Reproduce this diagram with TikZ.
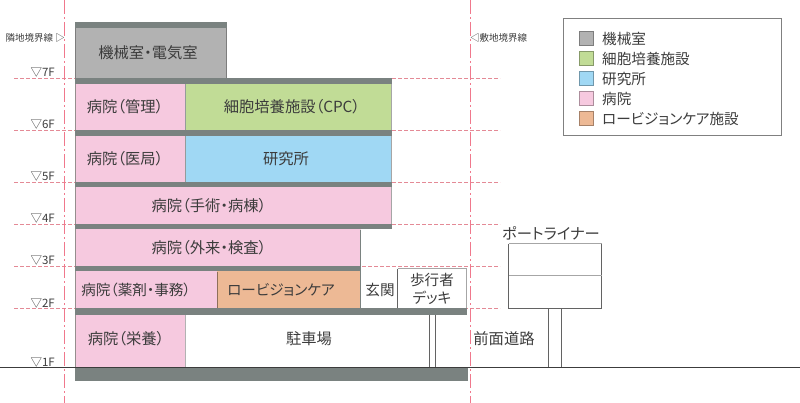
\documentclass[tikz,border=0pt]{standalone}
\usepackage{fontspec}
\setmainfont[RawFeature={+palt}]{Noto Sans CJK JP}
\definecolor{slab}{HTML}{7A8280}
\definecolor{mech}{HTML}{B2B2B2}
\definecolor{cpc}{HTML}{C1DC96}
\definecolor{lab}{HTML}{A0D8F4}
\definecolor{hosp}{HTML}{F6C9DF}
\definecolor{lowv}{HTML}{EDB995}
\definecolor{redline}{HTML}{F0788C}
\definecolor{dashred}{HTML}{E48A96}
\definecolor{ink}{HTML}{3C3C3C}
\tikzset{
  x=1pt,y=-1pt,
  slabfill/.style={fill=slab,draw=none},
  txt/.style={inner sep=0pt,text=ink,font=\fontsize{15.3}{18}\selectfont,align=center},
  txtb/.style={inner sep=0pt,text=ink,font=\fontsize{14.6}{18}\selectfont,align=center},
  small/.style={inner sep=0pt,text=ink,font=\fontsize{9.5}{11}\selectfont},
  lev/.style={inner sep=0pt,text=ink,anchor=base east,font=\fontsize{11.5}{13}\selectfont},
  boundary/.style={draw=redline,line width=.8pt,dash pattern=on 14pt off 3pt on 2pt off 3pt},
  levelline/.style={draw=dashred,line width=.6pt,dash pattern=on 4pt off 2pt},
  thin/.style={draw=ink!80,line width=.7pt},
  swatch/.style={draw=#1!70!black,line width=.8pt},
}
\begin{document}
\begin{tikzpicture}
\useasboundingbox (0,0) rectangle (800,403);
% level lines (behind the building)
\coordinate (L7a) at (14,78); \coordinate (L7b) at (500,78);
\coordinate (L6a) at (14,130); \coordinate (L6b) at (500,130);
\coordinate (L5a) at (14,182); \coordinate (L5b) at (500,182);
\coordinate (L4a) at (14,224); \coordinate (L4b) at (500,224);
\coordinate (L3a) at (14,266); \coordinate (L3b) at (500,266);
\coordinate (L2a) at (14,308); \coordinate (L2b) at (500,308);
\foreach \n in {7,6,5,4,3,2} \draw[levelline] (L\n a) -- (L\n b);
% rooms
\fill[mech] (75.5,28) rectangle (226,78);
\draw[draw=mech!70!black,line width=.6pt] (75.5,28) -- (75.5,78) (226,28) -- (226,78);
\fill[hosp] (75.5,84) rectangle (185,130.5);
\fill[cpc] (185,84) rectangle (391,130.5);
\fill[hosp] (75.5,136) rectangle (185,182);
\fill[lab] (185,136) rectangle (391,182);
\fill[hosp] (75.5,187) rectangle (391,224.5);
\fill[hosp] (75.5,229.5) rectangle (360.5,266.5);
\fill[hosp] (75.5,271.5) rectangle (217,308.5);
\fill[lowv] (217,271.5) rectangle (360.5,308.5);
\fill[hosp] (75.5,315) rectangle (185,367);
\draw[lowv!60!black,line width=.7pt] (217,272) -- (217,308);
\draw[slab!80!white,line width=.8pt] (185,84) -- (185,130) (185,136) -- (185,182);
\draw[gray!60,line width=1pt] (185,315) -- (185,367);
\draw[gray!70,line width=.9pt] (391,84) -- (391,224);
\draw[slab,line width=.8pt] (360.5,230) -- (360.5,308);
\draw[slab!80!pink,line width=.6pt] (75.5,84) -- (75.5,367);
% slabs
\fill[slabfill] (75,22) rectangle (226.5,28);
\fill[slabfill] (75,77.8) rectangle (391.5,84);
\fill[slabfill] (75,129.8) rectangle (391.5,136);
\fill[slabfill] (75,181.8) rectangle (391.5,187.5);
\fill[slabfill] (75,223.8) rectangle (391.5,229.5);
\fill[slabfill] (75,265.8) rectangle (361,271.5);
\fill[slabfill] (75,307.8) rectangle (467,315);
\fill[slabfill] (75,367) rectangle (468,380.5);
% ground
\coordinate (G0) at (0,367); \coordinate (G1) at (800,367);
\draw[ink,line width=.8pt] (G0) -- (G1);
% boundaries
\coordinate (BLt) at (64.5,0); \coordinate (BLb) at (64.5,403);
\coordinate (BRt) at (470.5,0); \coordinate (BRb) at (470.5,403);
\draw[boundary] (BLt) -- (BLb);
\draw[boundary] (BRt) -- (BRb);
% deck
\coordinate (D1) at (397.5,308); \coordinate (D2) at (397.5,269); \coordinate (D3) at (466,269); \coordinate (D4) at (466,308);
\draw[gray!70,line width=1pt] (D2) -- (D3) -- (D4);
\draw[thin] (D1) -- (D2);
\coordinate (Dc1t) at (429,315); \coordinate (Dc1b) at (429,367);
\coordinate (Dc2t) at (435.5,315); \coordinate (Dc2b) at (435.5,367);
\draw[thin] (Dc1t) -- (Dc1b);
\draw[thin] (Dc2t) -- (Dc2b);
% port liner
\coordinate (P1) at (508.5,244); \coordinate (P2) at (601.5,244); \coordinate (P3) at (601.5,308); \coordinate (P4) at (508.5,308);
\draw[gray!70,line width=1pt] (P1) -- (P2);
\draw[thin] (P2) -- (P3) -- (P4) -- (P1);
\coordinate (Pm1) at (508.5,276); \coordinate (Pm2) at (601.5,276);
\draw[gray!70,line width=1pt] (Pm1) -- (Pm2);
\coordinate (Pc1t) at (548.5,308); \coordinate (Pc1b) at (548.5,367);
\coordinate (Pc2t) at (561.5,308); \coordinate (Pc2b) at (561.5,367);
\draw[thin] (Pc1t) -- (Pc1b);
\draw[thin] (Pc2t) -- (Pc2b);
% room labels
\node[txt] (t1) at (148,53) {機械室・電気室};
\node[txt] (t2) at (125,107) {病院（管理）};
\node[txt] (t3) at (292,107) {細胞培養施設（CPC）};
\node[txt] (t4) at (125,159) {病院（医局）};
\node[txt] (t5) at (286,159) {研究所};
\node[txt] (t6) at (209,205.5) {病院（手術・病棟）};
\node[txt] (t7) at (209,248) {病院（外来・検査）};
\node[txtb] (t8) at (136,290) {病院（薬剤・事務）};
\node[txtb] (t9) at (281,290) {ロービジョンケア};
\node[txtb] (t10) at (380,290) {玄関};
\node[txtb] (t11) at (432,288.5) {歩行者\\デッキ};
\node[txt] (t12) at (126,339) {病院（栄養）};
\node[txt] (t13) at (309,339) {駐車場};
\node[txt] (t14) at (504,339) {前面道路};
\node[txt] (t15) at (551,233) {ポートライナー};
% boundary labels
\node[small,anchor=east] (b1) at (65,38) {隣地境界線 ▷};
\node[small,anchor=west] (b2) at (470,38) {◁敷地境界線};
% levels
\node[lev] (f7) at (55,77) {▽7F};
\node[lev] (f6) at (55,129) {▽6F};
\node[lev] (f5) at (55,181) {▽5F};
\node[lev] (f4) at (55,223) {▽4F};
\node[lev] (f3) at (55,265) {▽3F};
\node[lev] (f2) at (55,307) {▽2F};
\node[lev] (f1) at (55,366) {▽1F};
% legend
\node[draw=gray,line width=.8pt,fill=white,minimum width=218pt,minimum height=117pt,inner sep=0pt] (legend) at (672.5,76.5) {};
\foreach \i/\c/\t in {0/mech/機械室,1/cpc/細胞培養施設,2/lab/研究所,3/hosp/病院,4/lowv/ロービジョンケア施設}{
  \node[fill=\c,swatch=\c,minimum size=14.5pt,inner sep=0pt] (s\i) at (586.5,38.5+20*\i) {};
  \node[txtb,anchor=west] (l\i) at (602,38.5+20*\i) {\t};
}
\end{tikzpicture}
\end{document}
